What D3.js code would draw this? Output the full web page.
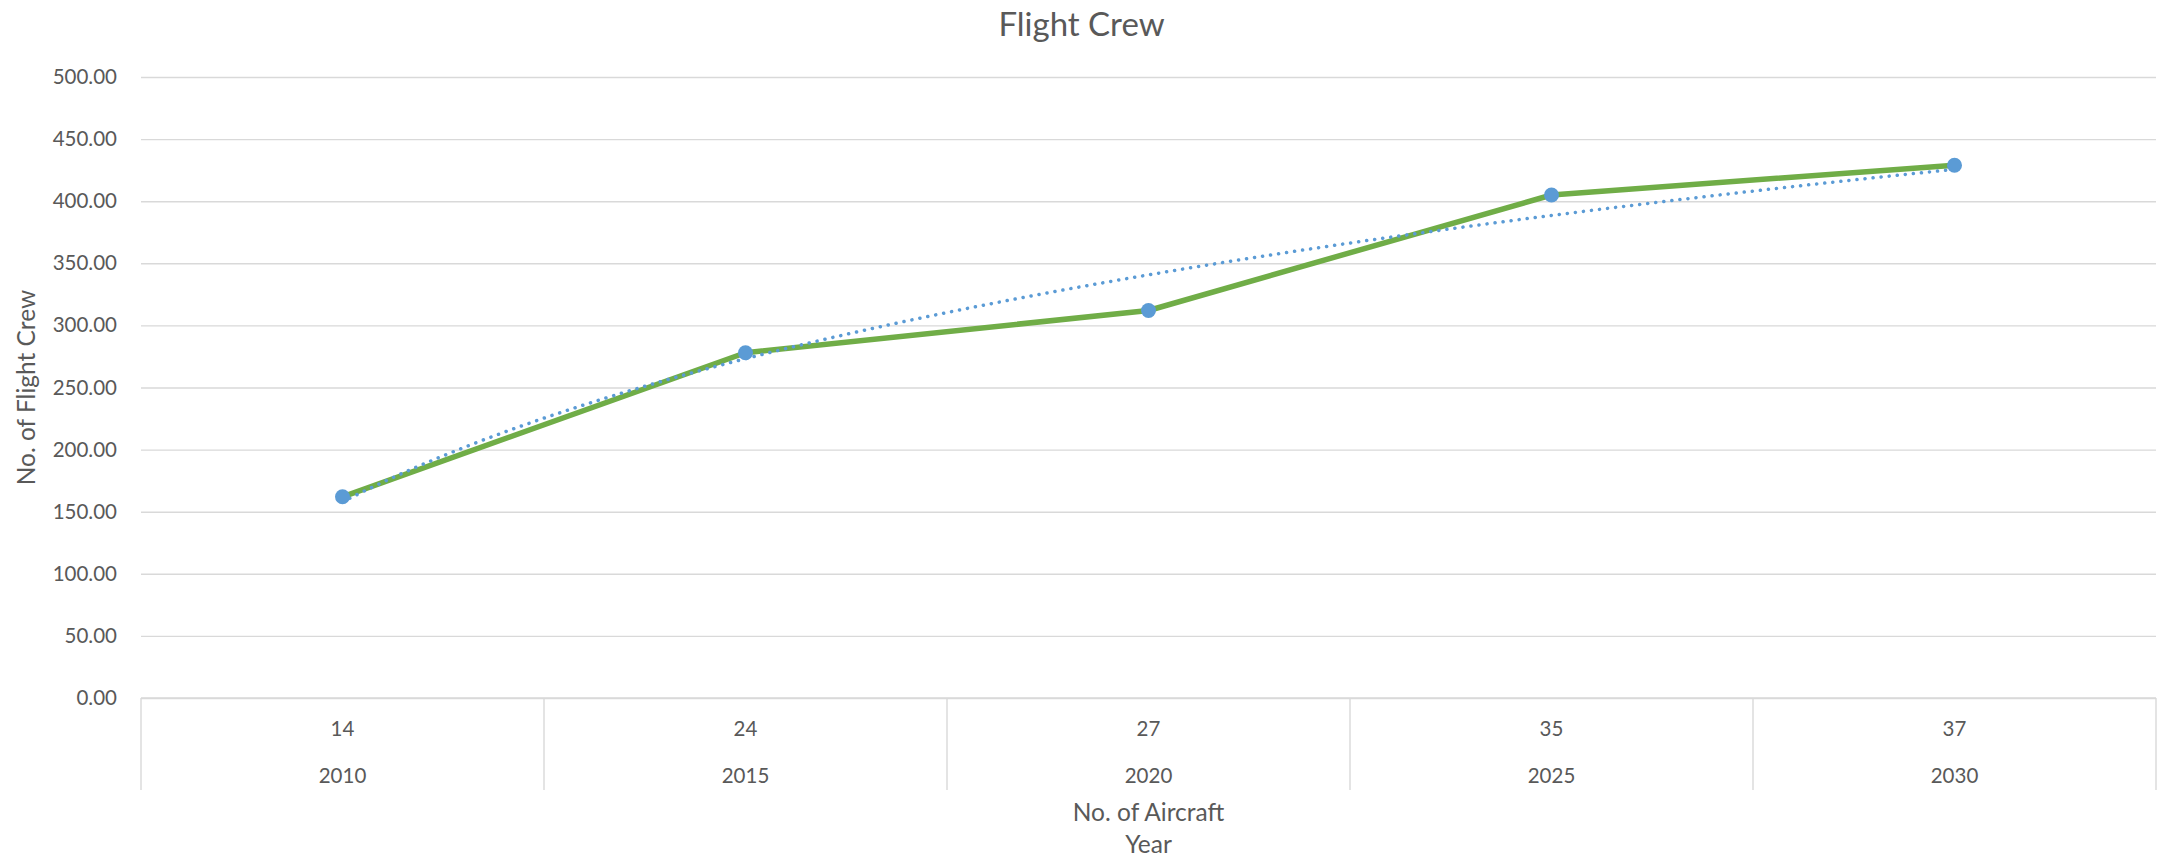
<!DOCTYPE html>
<html>
<head>
<meta charset="utf-8">
<script src="https://cdn.jsdelivr.net/npm/d3@7"></script>
<style>
  html, body { margin: 0; padding: 0; background: #fff; }
  svg { display: block; }
  text { font-family: Lato, "Open Sans", sans-serif; fill: #595959; }
</style>
</head>
<body>
<script>
// Flight crew requirement by year, with fleet size as the second category level
const years = ["2010", "2015", "2020", "2025", "2030"];
const aircraft = ["14", "24", "27", "35", "37"];
const flightCrew = [162, 278, 312, 405, 429];
const yTicks = [0, 50, 100, 150, 200, 250, 300, 350, 400, 450, 500];

const W = 2163, H = 859;
const plot = { left: 141, right: 2156, top: 77, bottom: 698 };

const svg = d3.select("body").append("svg")
  .attr("width", W).attr("height", H);

const x = d3.scaleBand()
  .domain(years)
  .range([plot.left, plot.right])
  .padding(0);

const y = d3.scaleLinear()
  .domain([0, 500])
  .range([plot.bottom, plot.top]);

// Horizontal gridlines and value labels
const yAxis = d3.axisLeft(y)
  .tickValues(yTicks)
  .tickFormat(d3.format(".2f"))
  .tickSize(-(plot.right - plot.left))
  .tickPadding(24);

const gy = svg.append("g")
  .attr("transform", `translate(${plot.left},0)`)
  .call(yAxis);
gy.select(".domain").remove();
gy.selectAll(".tick line").attr("stroke", "#d9d9d9").attr("stroke-width", 1.4);
gy.selectAll(".tick text")
  .attr("font-size", 20.5)
  .style("fill", "#595959");

// Category axis: baseline plus divider lines between categories
svg.append("line")
  .attr("x1", plot.left).attr("x2", plot.right)
  .attr("y1", y(0)).attr("y2", y(0))
  .attr("stroke", "#d9d9d9").attr("stroke-width", 1.4);

const boundaries = years.map(d => x(d)).concat([x(years[years.length - 1]) + x.bandwidth()]);
svg.append("g").selectAll("line")
  .data(boundaries)
  .join("line")
  .attr("x1", d => d).attr("x2", d => d)
  .attr("y1", y(0)).attr("y2", y(0) + 92)
  .attr("stroke", "#d9d9d9").attr("stroke-width", 1.4);

const cx = d => x(d) + x.bandwidth() / 2;

svg.append("g").selectAll("text")
  .data(aircraft)
  .join("text")
  .attr("x", (d, i) => cx(years[i]))
  .attr("y", 736)
  .attr("text-anchor", "middle")
  .attr("font-size", 20.5)
  .text(d => d);

svg.append("g").selectAll("text")
  .data(years)
  .join("text")
  .attr("x", d => cx(d))
  .attr("y", 783)
  .attr("text-anchor", "middle")
  .attr("font-size", 20.5)
  .text(d => d);

// Axis titles
const midX = (plot.left + plot.right) / 2;
svg.append("text")
  .attr("x", midX).attr("y", 821)
  .attr("text-anchor", "middle")
  .attr("font-size", 24.5)
  .text("No. of Aircraft");
svg.append("text")
  .attr("x", midX).attr("y", 853)
  .attr("text-anchor", "middle")
  .attr("font-size", 24.5)
  .text("Year");

svg.append("text")
  .attr("transform", `translate(35,${(plot.top + plot.bottom) / 2}) rotate(-90)`)
  .attr("text-anchor", "middle")
  .attr("font-size", 24.5)
  .text("No. of Flight Crew");

// Chart title
svg.append("text")
  .attr("x", W / 2).attr("y", 36)
  .attr("text-anchor", "middle")
  .attr("font-size", 33)
  .text("Flight Crew");

// Logarithmic trendline fitted to the series (y = a ln(n) + b, n = 1..N)
const lnX = flightCrew.map((d, i) => Math.log(i + 1));
const mx = d3.mean(lnX), my = d3.mean(flightCrew);
const a = d3.sum(lnX, (v, i) => (v - mx) * (flightCrew[i] - my)) /
          d3.sum(lnX, v => (v - mx) * (v - mx));
const b = my - a * mx;

const step = x.bandwidth();
const x0 = cx(years[0]);
const trendPts = d3.range(0, (years.length - 1) * 20 + 1).map(k => {
  const n = 1 + k / 20;
  return [x0 + (n - 1) * step, y(a * Math.log(n) + b)];
});

// Data line
const line = d3.line()
  .x((d, i) => cx(years[i]))
  .y(d => y(d));

svg.append("path")
  .datum(flightCrew)
  .attr("d", line)
  .attr("fill", "none")
  .attr("stroke", "#70ad47")
  .attr("stroke-width", 5.5)
  .attr("stroke-linejoin", "round")
  .attr("stroke-linecap", "round");

svg.append("path")
  .datum(trendPts)
  .attr("d", d3.line())
  .attr("fill", "none")
  .attr("stroke", "#5b9bd5")
  .attr("stroke-width", 3.5)
  .attr("stroke-linecap", "round")
  .attr("stroke-dasharray", "0.1 8");

// Markers
svg.append("g").selectAll("circle")
  .data(flightCrew)
  .join("circle")
  .attr("cx", (d, i) => cx(years[i]))
  .attr("cy", d => y(d))
  .attr("r", 7.5)
  .attr("fill", "#5b9bd5");
</script>
</body>
</html>
